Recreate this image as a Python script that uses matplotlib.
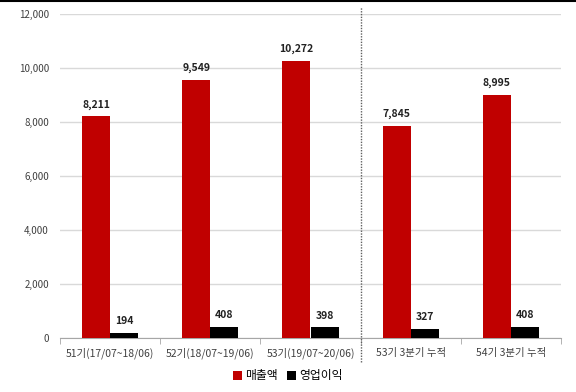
import numpy as np
import matplotlib.pyplot as plt
from matplotlib.lines import Line2D

plt.rcParams['font.family'] = ['Noto Sans CJK KR', 'DejaVu Sans']

periods = ['51기(17/07~18/06)', '52기(18/07~19/06)', '53기(19/07~20/06)',
           '53기 3분기 누적', '54기 3분기 누적']
sales = [8211, 9549, 10272, 7845, 8995]
op_profit = [194, 408, 398, 327, 408]
yticks = [0, 2000, 4000, 6000, 8000, 10000, 12000]

red = '#C00000'
fig = plt.figure(figsize=(5.76, 3.92), dpi=100)
ax = fig.add_axes([60 / 576, 1 - 338 / 392, 501 / 576, 324 / 392])

x = np.arange(len(periods))
w = 0.28
ax.bar(x - w / 2, sales, w, color=red, label='매출액', zorder=3)
ax.bar(x + w / 2, op_profit, w, color='black', label='영업이익', zorder=3)

for xi, v in zip(x, sales):
    ax.text(xi - w / 2, v + 250, f'{v:,}', ha='center', va='bottom',
            fontsize=7.5, fontweight='bold', color='#222222')
for xi, v in zip(x, op_profit):
    ax.text(xi + w / 2, v + 250, f'{v:,}', ha='center', va='bottom',
            fontsize=7.5, fontweight='bold', color='#222222')

ax.set_xlim(-0.5, len(periods) - 0.5)
ax.set_ylim(0, 12000)
ax.set_yticks(yticks)
ax.set_yticklabels([f'{t:,}' for t in yticks], fontsize=7, color='#404040')
ax.yaxis.grid(True, color='#D9D9D9', linewidth=1, zorder=0)
ax.tick_params(axis='y', length=0, pad=8)

ax.set_xticks(x)
ax.set_xticklabels(periods, fontsize=7.5, color='#404040')
ax.set_xticks(np.arange(len(periods) + 1) - 0.5, minor=True)
ax.tick_params(axis='x', which='major', length=0, pad=7)
ax.tick_params(axis='x', which='minor', length=4, color='#A6A6A6')

for s in ['top', 'right', 'left']:
    ax.spines[s].set_visible(False)
ax.spines['bottom'].set_color('#A6A6A6')

# dotted separator between annual and cumulative periods
sep = 2.5
x_fig = ax.transData.transform((sep, 0))[0] / fig.dpi / fig.get_figwidth()
fig.add_artist(Line2D([x_fig, x_fig], [1 - 362 / 392, 1 - 7 / 392],
                      color='#606060', linestyle=(0, (1, 1)), linewidth=1))

# frame line along the top edge
fig.add_artist(Line2D([0, 1], [0.998, 0.998], color='black', linewidth=1.5))

fig.legend(loc='center', bbox_to_anchor=(0.5, 1 - 376 / 392), ncol=2,
           frameon=False, fontsize=8.5, handlelength=0.7, handleheight=0.7,
           handletextpad=0.3, columnspacing=0.8)

fig.savefig('out.png', dpi=100)
